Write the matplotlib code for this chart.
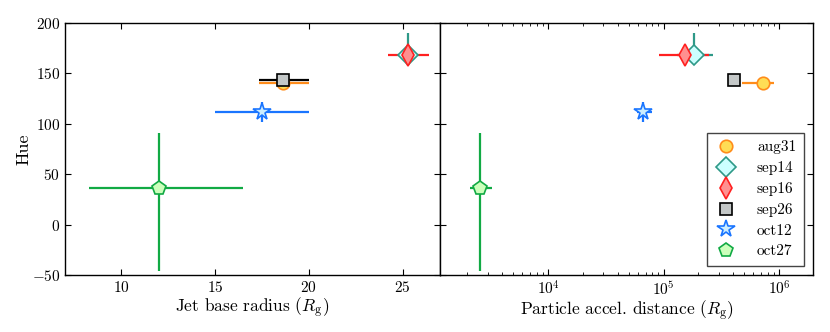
import numpy as np
import matplotlib
matplotlib.use('Agg')
import matplotlib.pyplot as plt
from matplotlib.lines import Line2D

plt.rcParams.update({
    'font.family': 'serif',
    'font.serif': ['cmr10'],
    'mathtext.fontset': 'cm',
    'axes.formatter.use_mathtext': True,
    'axes.unicode_minus': True,
    'xtick.direction': 'in',
    'ytick.direction': 'in',
    'xtick.top': True,
    'ytick.right': True,
    'font.size': 12,
})

# observation epochs
labels = ['aug31', 'sep14', 'sep16', 'sep26', 'oct12', 'oct27']
hue = [140.5, 168, 168, 143, 112, 36]
hue_lo = [0, 5, 0, 0, 10, 82]
hue_hi = [0, 22, 0, 0, 10, 55]

# jet base radius (Rg)
radius = [18.6, 25.3, 25.3, 18.6, 17.5, 12.0]
radius_lo = [1.25, 0.0, 1.05, 1.25, 2.5, 3.7]
radius_hi = [1.4, 0.0, 1.1, 1.4, 2.5, 4.5]

# particle acceleration distance (Rg)
dist = [7.2e5, 1.85e5, 1.52e5, 4.04e5, 6.7e4, 2.6e3]
dist_lo = [2.4e5, 5.5e4, 6.0e4, 4.4e4, 8.0e3, 5.0e2]
dist_hi = [1.9e5, 8.5e4, 9.4e4, 4.0e4, 1.2e4, 7.0e2]

markers = ['o', 'D', 'd', 's', '*', 'p']
sizes = [9, 10, 11, 9, 13, 10]
faces = ['#ffdd55', '#ccffff', '#ff9090', '#c4c8c8', '#cceeff', '#ccffbb']
edges = ['#ff8c1a', '#2e9988', '#ff2020', '#000000', '#1a75ff', '#11aa44']

fig = plt.figure(figsize=(8.3, 3.32), dpi=100)
ax1 = fig.add_axes([65 / 830, 57 / 332, 375 / 830, 252 / 332])
ax2 = fig.add_axes([440 / 830, 57 / 332, 373 / 830, 252 / 332], sharey=ax1)

handles = []
for i in range(len(labels)):
    kw = dict(fmt=markers[i], ms=sizes[i], mfc=faces[i], mec=edges[i],
              mew=1.2, ecolor=edges[i], elinewidth=1.6, capsize=0)
    ax1.errorbar(radius[i], hue[i],
                 xerr=[[radius_lo[i]], [radius_hi[i]]],
                 yerr=[[hue_lo[i]], [hue_hi[i]]], **kw)
    ax2.errorbar(dist[i], hue[i],
                 xerr=[[dist_lo[i]], [dist_hi[i]]],
                 yerr=[[hue_lo[i]], [hue_hi[i]]], **kw)
    handles.append(Line2D([], [], ls='none', marker=markers[i], ms=sizes[i],
                          mfc=faces[i], mec=edges[i], mew=1.2,
                          label=labels[i]))

ax1.set_xlim(7, 27)
ax1.set_ylim(-50, 200)
ax1.set_xticks([10, 15, 20, 25])
ax1.set_yticks([-50, 0, 50, 100, 150, 200])
ax1.set_xlabel(r'Jet base radius ($R_{\rm g}$)', fontsize=12.5, labelpad=0)
ax1.set_ylabel('Hue', fontsize=13, labelpad=0)

ax2.set_xscale('log')
ax2.set_xlim(1.16e3, 1.97e6)
ax2.tick_params(labelleft=False)
ax2.set_xlabel(r'Particle accel. distance ($R_{\rm g}$)', fontsize=12.5,
               labelpad=0)

for ax in (ax1, ax2):
    for s in ax.spines.values():
        s.set_linewidth(1.0)
    ax.tick_params(which='major', length=4, labelsize=11)
    ax.tick_params(which='minor', length=2)

leg = ax2.legend(handles=handles, loc='lower right', numpoints=1,
                 fontsize=11, handlelength=1.6, handletextpad=1.2,
                 labelspacing=0.45, borderpad=0.5, borderaxespad=0.6,
                 fancybox=False, framealpha=1)
leg.get_frame().set_edgecolor('#444444')

fig.savefig('out.png', dpi=100)
